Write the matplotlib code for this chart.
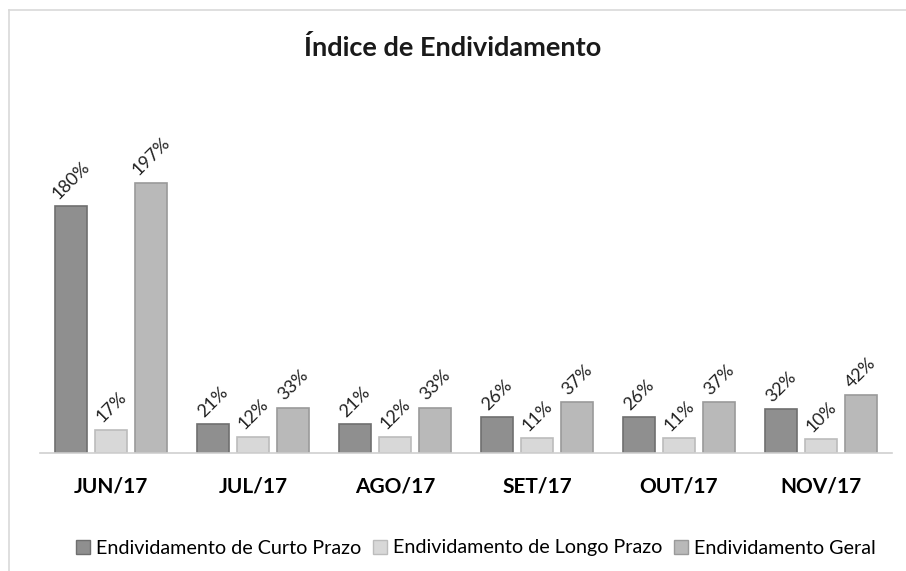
import matplotlib.pyplot as plt
import numpy as np
from matplotlib.lines import Line2D

# Dados do gráfico
meses = ['JUN/17', 'JUL/17', 'AGO/17', 'SET/17', 'OUT/17', 'NOV/17']
curto_prazo = [180, 21, 21, 26, 26, 32]
longo_prazo = [17, 12, 12, 11, 11, 10]
geral = [197, 33, 33, 37, 37, 42]
series_nomes = ['Endividamento de Curto Prazo', 'Endividamento de Longo Prazo', 'Endividamento Geral']

plt.rcParams['font.family'] = ['Lato', 'DejaVu Sans']

fig = plt.figure(figsize=(9.06, 5.71), dpi=100)
ax = fig.add_axes([40 / 906, (571 - 453) / 571, 852 / 906, (453 - 151) / 571])

cores = ['#8f8f8f', '#d8d8d8', '#b9b9b9']
bordas = ['#6f6f6f', '#bcbcbc', '#9a9a9a']
x = np.arange(len(meses))
largura = 0.225
desloc = 0.28

for i, vals in enumerate([curto_prazo, longo_prazo, geral]):
    pos = x + (i - 1) * desloc
    ax.bar(pos, vals, width=largura, color=cores[i], edgecolor=bordas[i], linewidth=1.2,
           label=series_nomes[i])
    for p, v in zip(pos, vals):
        ax.annotate(f'{v}%', (p, v), xytext=(0, 3), textcoords='offset points',
                    rotation=45, ha='center', va='bottom', fontsize=13, color='#222222')

ax.set_xlim(-0.5, len(meses) - 0.5)
ax.set_ylim(0, 220)
ax.set_yticks([])
ax.set_xticks(x)
ax.set_xticklabels(meses, fontweight='bold', fontsize=15)
ax.tick_params(axis='x', length=0, pad=17)
for s in ['top', 'right', 'left']:
    ax.spines[s].set_visible(False)
ax.spines['bottom'].set_color('#d0d0d0')
ax.spines['bottom'].set_linewidth(1.2)

fig.text(0.5, 1 - 47 / 571, 'Índice de Endividamento', ha='center', va='center',
         fontsize=19.5, fontweight='bold', color='#1a1a1a')

handles = [plt.Rectangle((0, 0), 1, 1, facecolor=cores[i], edgecolor=bordas[i]) for i in range(3)]
fig.legend(handles, series_nomes, loc='center', bbox_to_anchor=(0.525, 1 - 548 / 571), ncol=3,
           frameon=False, fontsize=14.2, handlelength=0.7, handleheight=0.7,
           handletextpad=0.3, columnspacing=0.6)

# moldura parcial do gráfico
fig.add_artist(Line2D([9 / 906, 9 / 906], [0, 1 - 10 / 571], color='#d9d9d9', lw=1.2))
fig.add_artist(Line2D([9 / 906, 1], [1 - 10 / 571, 1 - 10 / 571], color='#d9d9d9', lw=1.2))

fig.savefig('out.png', dpi=100)
